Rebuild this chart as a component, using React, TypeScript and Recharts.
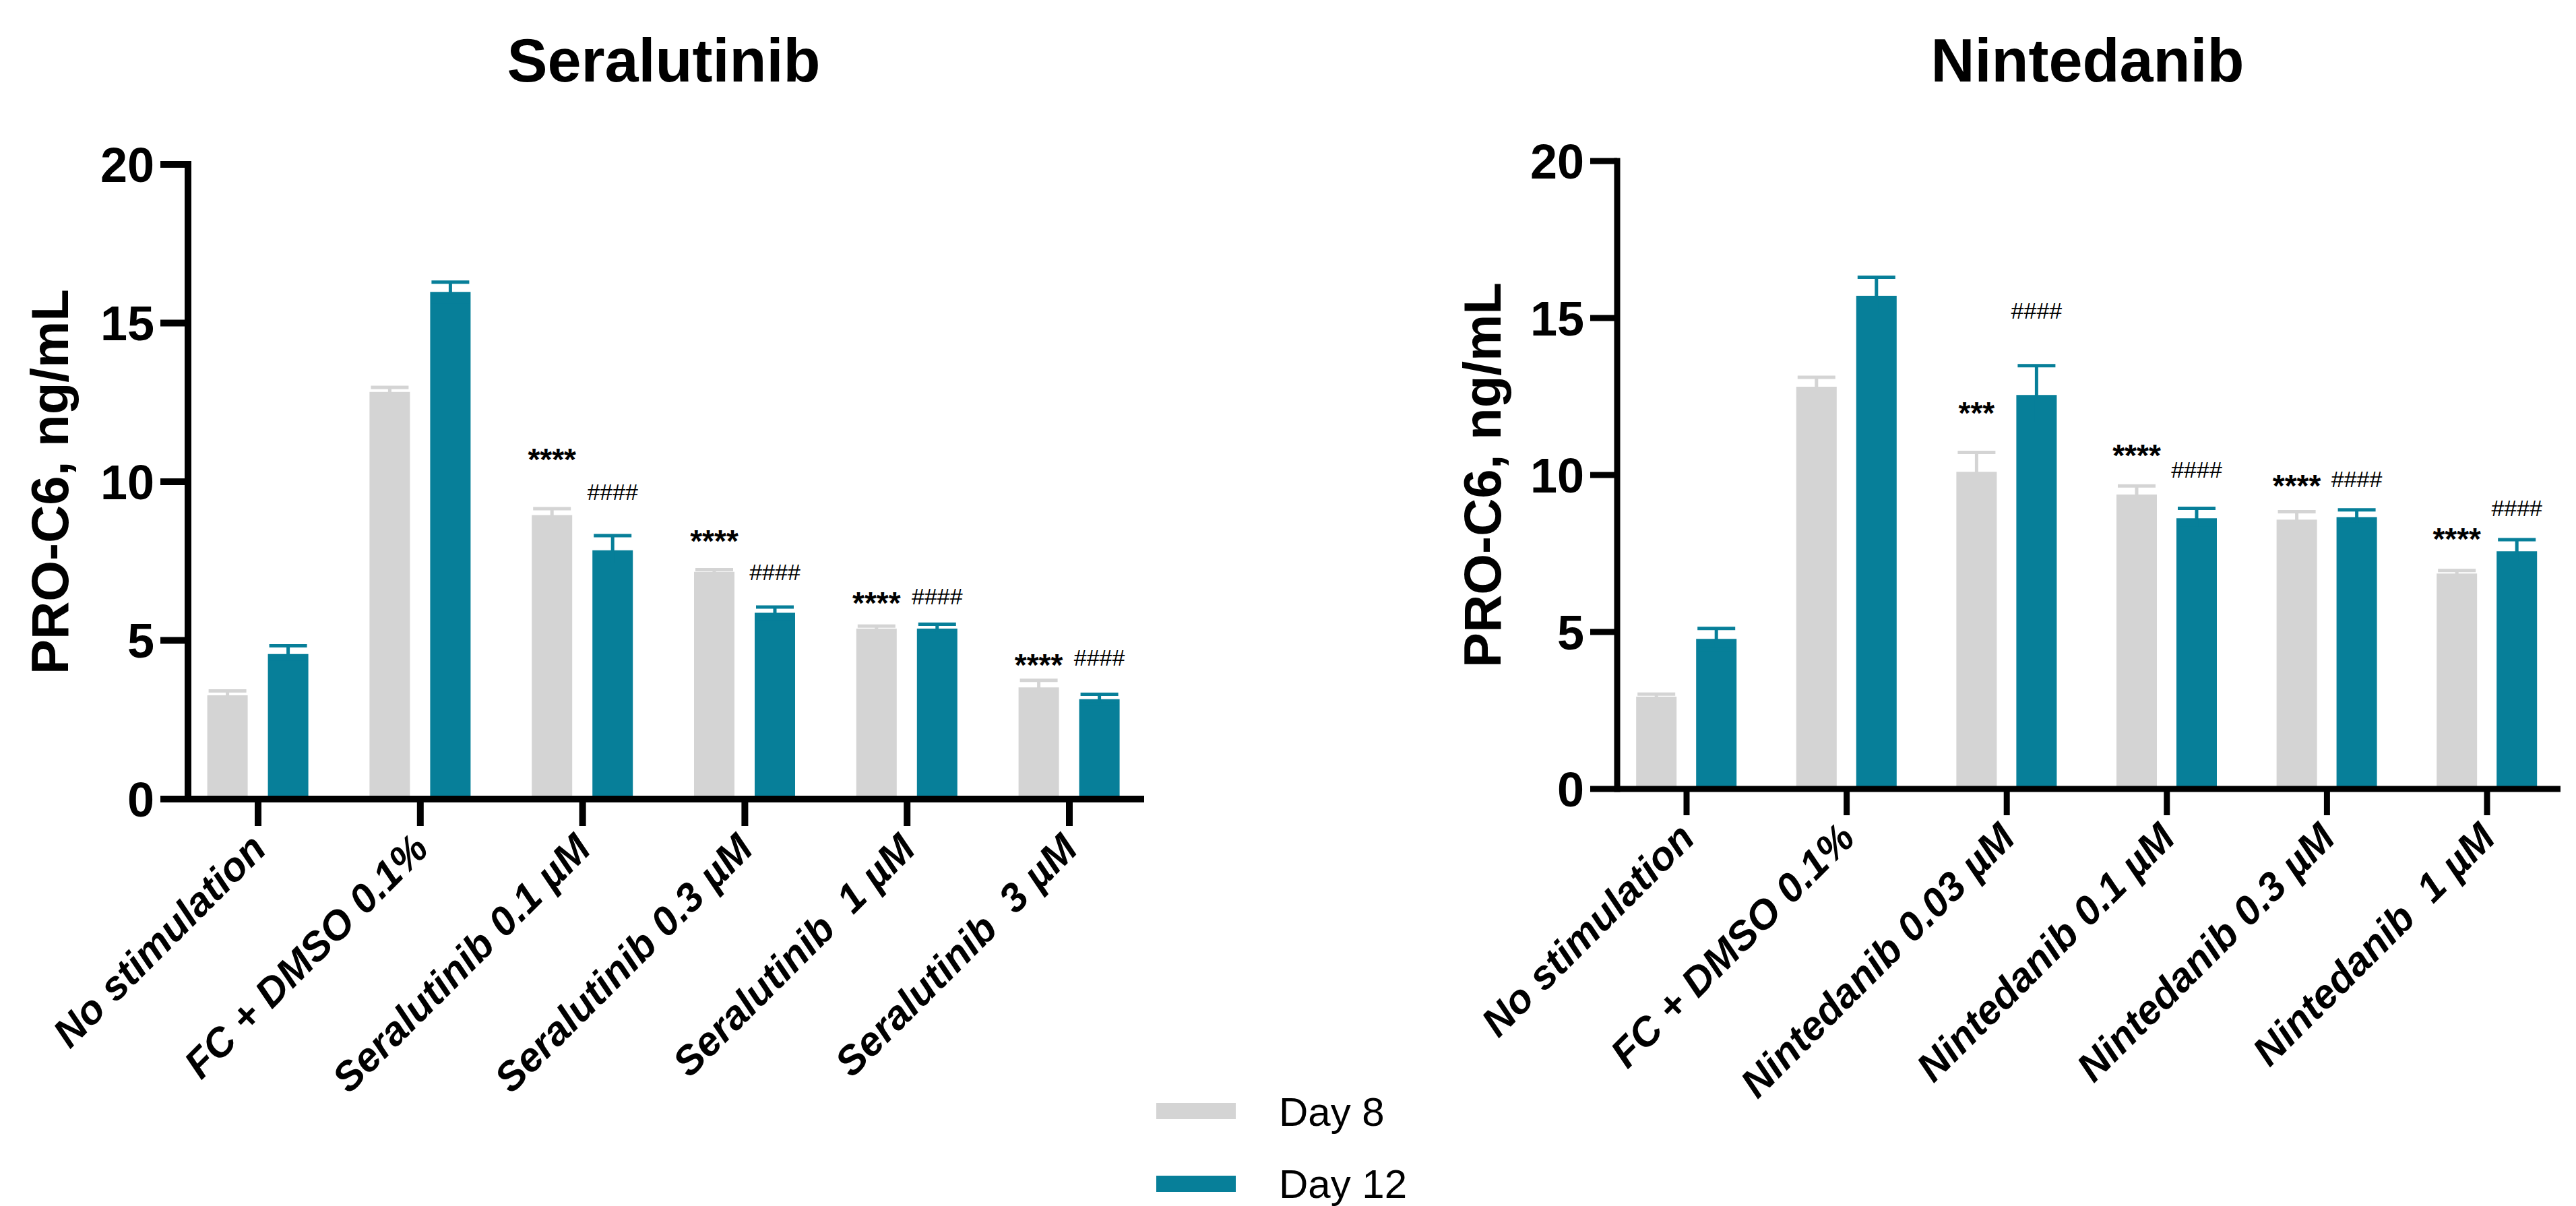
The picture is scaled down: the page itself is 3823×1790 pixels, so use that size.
import React from "react";
import { BarChart, Bar, XAxis, YAxis, ErrorBar, LabelList } from "recharts";

const FONT = "'Liberation Sans', Arial, Helvetica, sans-serif";
const GRAY = "#D4D4D4";
const TEAL = "#077F99";

// Seralutinib panel
const seraGroups = [
  "No stimulation",
  "FC + DMSO 0.1%",
  "Seralutinib 0.1 µM",
  "Seralutinib 0.3 µM",
  "Seralutinib\u00a0\u00a01 µM",
  "Seralutinib\u00a0\u00a03 µM",
];
const seraDay8 = [3.27, 12.83, 8.95, 7.16, 5.37, 3.52];
const seraDay8Err = [0.14, 0.14, 0.2, 0.07, 0.08, 0.22];
const seraDay12 = [4.57, 15.98, 7.84, 5.87, 5.37, 3.15];
const seraDay12Err = [0.26, 0.31, 0.46, 0.18, 0.14, 0.15];
const seraSig8 = ["", "", "****", "****", "****", "****"];
const seraSig8At = [0, 0, 10.92, 8.35, 6.39, 4.45];
const seraSig12 = ["", "", "####", "####", "####", "####"];
const seraSig12At = [0, 0, 9.69, 7.16, 6.39, 4.45];

// Nintedanib panel
const ninGroups = [
  "No stimulation",
  "FC + DMSO 0.1%",
  "Nintedanib 0.03 µM",
  "Nintedanib 0.1 µM",
  "Nintedanib 0.3 µM",
  "Nintedanib\u00a0\u00a01 µM",
];
const ninDay8 = [2.94, 12.81, 10.1, 9.38, 8.58, 6.86];
const ninDay8Err = [0.08, 0.3, 0.62, 0.27, 0.25, 0.1];
const ninDay12 = [4.78, 15.71, 12.55, 8.62, 8.66, 7.57];
const ninDay12Err = [0.33, 0.59, 0.93, 0.32, 0.23, 0.37];
const ninSig8 = ["", "", "***", "****", "****", "****"];
const ninSig8At = [0, 0, 12.19, 10.85, 9.88, 8.19];
const ninSig12 = ["", "", "####", "####", "####", "####"];
const ninSig12At = [0, 0, 15.24, 10.17, 9.88, 8.94];

const yTicks = [0, 5, 10, 15, 20];

type Row = {
  name: string;
  d8: number;
  e8: number;
  d12: number;
  e12: number;
  s8: string;
  s8At: number;
  s12: string;
  s12At: number;
};

const buildRows = (
  groups: string[],
  d8: number[],
  e8: number[],
  d12: number[],
  e12: number[],
  s8: string[],
  s8At: number[],
  s12: string[],
  s12At: number[]
): Row[] =>
  groups.map((name, i) => ({
    name,
    d8: d8[i],
    e8: e8[i],
    d12: d12[i],
    e12: e12[i],
    s8: s8[i],
    s8At: s8At[i],
    s12: s12[i],
    s12At: s12At[i],
  }));

const seraRows = buildRows(seraGroups, seraDay8, seraDay8Err, seraDay12, seraDay12Err, seraSig8, seraSig8At, seraSig12, seraSig12At);
const ninRows = buildRows(ninGroups, ninDay8, ninDay8Err, ninDay12, ninDay12Err, ninSig8, ninSig8At, ninSig12, ninSig12At);

const XTick = (props: any) => {
  const { x, y, payload } = props;
  return (
    <g transform={`translate(${x},${y})`}>
      <text
        x={0}
        y={0}
        dy="0.36em"
        textAnchor="end"
        transform="rotate(-45)"
        fontFamily={FONT}
        fontSize={60}
        fontWeight={700}
        fontStyle="italic"
        fill="#000"
      >
        {payload.value}
      </text>
    </g>
  );
};

const YLabel = (props: any) => {
  const { viewBox, cx } = props;
  const cy = viewBox ? viewBox.y + viewBox.height / 2 : 715;
  return (
    <text
      x={cx}
      y={cy}
      dy="0.36em"
      textAnchor="middle"
      transform={`rotate(-90, ${cx}, ${cy})`}
      fontFamily={FONT}
      fontSize={78}
      fontWeight={700}
      fill="#000"
    >
      PRO-C6, ng/mL
    </text>
  );
};

// significance marks, placed at a value height above each bar
const sigContent = (rows: Row[], day: "8" | "12") => (props: any) => {
  const row = rows[props.index];
  if (!row) return null;
  const text = day === "8" ? row.s8 : row.s12;
  if (!text) return null;
  const at = day === "8" ? row.s8At : row.s12At;
  const v = day === "8" ? row.d8 : row.d12;
  const vb = props.viewBox ?? props;
  const x = Number(vb.x);
  const y = Number(vb.y);
  const w = Number(vb.width);
  const h = Number(vb.height);
  const cy = y + h - (at * h) / v;
  const hash = text.startsWith("#");
  const fs = hash ? 34 : 46;
  return (
    <text
      x={x + w / 2}
      y={cy + (hash ? 0.355 : 0.57) * fs}
      textAnchor="middle"
      fontFamily={FONT}
      fontSize={fs}
      fontWeight={hash ? 400 : 700}
      fill="#000"
    >
      {text}
    </text>
  );
};

type PanelProps = {
  rows: Row[];
  left: number;
  width: number;
  margin: { top: number; right: number; bottom: number; left: number };
  yAxisWidth: number;
  pad: { left: number; right: number };
  stroke: number;
  xTickSize: number;
  yTickSize: number;
  labelX: number;
  gap: number;
};

const Panel = ({ rows, left, width, margin, yAxisWidth, pad, stroke, xTickSize, yTickSize, labelX, gap }: PanelProps) => (
  <div style={{ position: "absolute", left, top: 0 }}>
    <BarChart width={width} height={1790} data={rows} margin={margin} barSize={60} barGap={gap}>
      <Bar dataKey="d8" fill={GRAY} isAnimationActive={false}>
        <ErrorBar dataKey="e8" width={28} strokeWidth={5} stroke={GRAY} isAnimationActive={false} />
        <LabelList dataKey="s8" content={sigContent(rows, "8")} />
      </Bar>
      <Bar dataKey="d12" fill={TEAL} isAnimationActive={false}>
        <ErrorBar dataKey="e12" width={28} strokeWidth={5} stroke={TEAL} isAnimationActive={false} />
        <LabelList dataKey="s12" content={sigContent(rows, "12")} />
      </Bar>
      <XAxis
        dataKey="name"
        interval={0}
        height={500}
        padding={pad}
        tickSize={xTickSize}
        tickMargin={22}
        axisLine={{ stroke: "#000", strokeWidth: stroke }}
        tickLine={{ stroke: "#000", strokeWidth: stroke }}
        tick={<XTick />}
      />
      <YAxis
        width={yAxisWidth}
        domain={[0, 20]}
        ticks={yTicks}
        interval={0}
        tickSize={yTickSize}
        tickMargin={9}
        axisLine={{ stroke: "#000", strokeWidth: stroke, strokeLinecap: "square" }}
        tickLine={{ stroke: "#000", strokeWidth: stroke }}
        tick={{ fill: "#000", fontSize: 72, fontWeight: 700, fontFamily: FONT }}
        label={<YLabel cx={labelX} />}
      />
    </BarChart>
  </div>
);

export default function App() {
  return (
    <div
      style={{
        position: "absolute",
        left: 0,
        top: 0,
        width: 3823,
        height: 1790,
        background: "#fff",
        overflow: "hidden",
        fontFamily: FONT,
      }}
    >
      <Panel
        rows={seraRows}
        left={0}
        width={1720}
        margin={{ top: 244, right: 22, bottom: 104, left: 0 }}
        yAxisWidth={279}
        pad={{ left: -16.4, right: -9.4 }}
        stroke={10}
        xTickSize={40}
        yTickSize={41}
        labelX={73}
        gap={30}
      />
      <Panel
        rows={ninRows}
        left={2100}
        width={1723}
        margin={{ top: 239, right: 23, bottom: 119, left: 0 }}
        yAxisWidth={300}
        pad={{ left: -15.8, right: -9.8 }}
        stroke={9}
        xTickSize={39}
        yTickSize={40}
        labelX={99}
        gap={29}
      />
      <svg
        width={3823}
        height={1790}
        style={{ position: "absolute", left: 0, top: 0, pointerEvents: "none" }}
      >
        <text x={985} y={121} textAnchor="middle" fontFamily={FONT} fontSize={90} fontWeight={700} fill="#000">
          Seralutinib
        </text>
        <text x={3098} y={121} textAnchor="middle" fontFamily={FONT} fontSize={90} fontWeight={700} fill="#000">
          Nintedanib
        </text>
        <rect x={1716} y={1637} width={118} height={24} fill={GRAY} />
        <text x={1898} y={1671} fontFamily={FONT} fontSize={60} fill="#000">
          Day 8
        </text>
        <rect x={1716} y={1745} width={118} height={24} fill={TEAL} />
        <text x={1898} y={1778} fontFamily={FONT} fontSize={60} fill="#000">
          Day 12
        </text>
      </svg>
    </div>
  );
}
